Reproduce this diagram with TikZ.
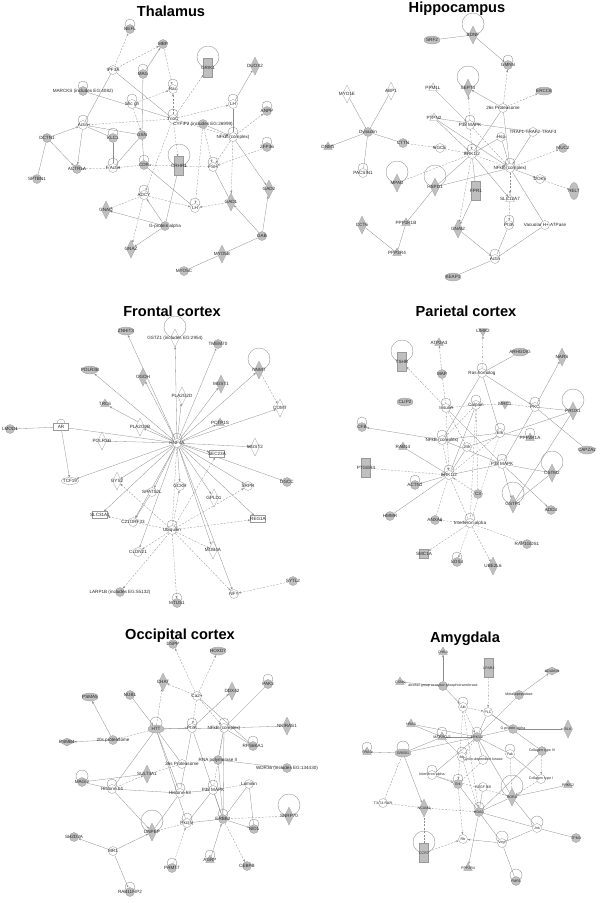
\documentclass[tikz,border=0pt]{standalone}
\usepackage{fontspec}
\setmainfont{Liberation Sans}
\usetikzlibrary{shapes.geometric,arrows.meta}
\pgfdeclarelayer{bg}
\pgfsetlayers{bg,main}
\newcommand\lbf{\fontsize{4.6}{5}\selectfont}
\newcommand\lbsf{\fontsize{3.6}{4}\selectfont}
\tikzset{
  x=1pt,y=-1pt,
  base/.style={inner sep=0pt,outer sep=0.2pt,draw=black!40,line width=0.3pt},
  gc/.style={base,circle,fill=gray!50,minimum size=9pt},
  oc/.style={base,circle,fill=white,minimum size=9pt},
  gd/.style={base,diamond,fill=gray!50,minimum width=9pt,minimum height=18pt},
  od/.style={base,diamond,fill=white,minimum width=9pt,minimum height=18pt},
  gdh/.style={base,diamond,fill=gray!50,minimum width=15pt,minimum height=8pt},
  gr/.style={base,rectangle,fill=gray!50,minimum width=9pt,minimum height=19pt},
  gsq/.style={base,rectangle,fill=gray!50,minimum width=9pt,minimum height=9pt},
  orr/.style={base,rectangle,fill=white,minimum width=15pt,minimum height=7pt},
  gt/.style={base,regular polygon,regular polygon sides=3,fill=gray!50,minimum size=10pt},
  gtd/.style={gt,shape border rotate=180},
  ot/.style={base,regular polygon,regular polygon sides=3,fill=white,minimum size=10pt},
  ge/.style={base,ellipse,fill=gray!50,minimum width=16pt,minimum height=8pt},
  gev/.style={base,ellipse,fill=gray!50,minimum width=9pt,minimum height=17pt},
  oe/.style={base,ellipse,fill=white,minimum width=17pt,minimum height=7pt},
  lb/.style={font=\lbf,text=black!85,inner sep=0pt},
  lpc/.style={draw=black!50,line width=0.3pt},
  ln/.style={draw=black!45,line width=0.3pt},
  dl/.style={ln,dash pattern=on 2pt off 1.4pt},
  ar/.style={ln,-{Stealth[length=2.6pt,width=2pt]}},
  da/.style={ar,dash pattern=on 2pt off 1.4pt},
  ttl/.style={font=\fontsize{14.6}{16}\selectfont\bfseries,anchor=base,inner sep=0pt}
}
\newcommand\mknode[5][]{\node[#2,label={[lb,#1]center:{#5}}] (#3) at (#4) {};}
\newcommand\lp[2]{\begin{pgfonlayer}{bg}\draw[lpc] ([yshift=#2pt]#1.center) circle (#2pt);\end{pgfonlayer}}
\begin{document}
\begin{tikzpicture}
\useasboundingbox (0,0) rectangle (600,903);
% ================= THALAMUS =================
\node[ttl] (ttitle) at (171,16.5) {Thalamus};
\mknode{gc}{tnefl}{130,29}{NEFL}\lp{tnefl}{5}
\mknode{gc}{tmbp}{163,44}{MBP}
\mknode{oc}{tipf}{113,70}{IPF3A}
\mknode{gc}{tmag}{143,74}{MAG}\lp{tmag}{5}
\mknode{gr}{tgrik}{208,68}{GRIK1}\lp{tgrik}{11}
\mknode{gd}{tduox}{255,66}{DUOX2}
\mknode{oc}{trac}{173,89}{Rac}\lp{trac}{5}
\mknode{gc}{tmarcks}{83,91}{MARCKS (includes EG:4082)}\lp{tmarcks}{5}
\mknode{oc}{tshc}{132,104}{Shc gh}\lp{tshc}{5}
\mknode{oc}{tlh1}{233,104}{LH}\lp{tlh1}{5}
\mknode{gc}{tanpp}{267,111}{ANPP}\lp{tanpp}{5}
\mknode{oc}{tactin}{83,125}{Actin}\lp{tactin}{5}
\mknode{oc}{ttrio}{173,119}{TrioC}\lp{ttrio}{5}
\mknode{gc}{tcyf}{203,124}{CYFIP2 (includes EG:26999)}
\mknode{oc}{tnfkb}{233,137}{NFkB (complex)}\lp{tnfkb}{5}
\mknode{gc}{tdctn}{47,138}{DCTN1}
\mknode{gc}{tklc}{113,138}{KLC1}\lp{tklc}{5}
\mknode{gc}{tgsn}{142,135}{GSN}
\mknode{gc}{tzfp}{267,147}{ZFP36}\lp{tzfp}{5}
\mknode{gc}{tactr}{77,169}{ACTR1A}
\mknode{oc}{tfacin}{113,168}{F Actin}\lp{tfacin}{5}
\mknode{gc}{tcdr}{144,165}{CDR}\lp{tcdr}{5}
\mknode{gr}{tcrhr}{179,166}{CRHR1}\lp{tcrhr}{11}
\mknode{oc}{tfsh}{213,167}{FSH}\lp{tfsh}{5}
\mknode{gd}{tgad2}{269,189}{GAD2}
\mknode{oc}{tadcy}{144,195}{ADCY}\lp{tadcy}{5}
\mknode{oc}{tlh2}{195,208}{LH}\lp{tlh2}{5}
\mknode{gd}{tgad1}{231,202}{GAD1}
\mknode{gd}{tgnaq}{106,210}{GNAQ}
\mknode{gc}{tgpa}{165,226}{G-protein alpha}
\mknode{gd}{tgnaz}{131,249}{GNAZ}
\mknode{gc}{tgab}{262,236}{GAB}
\mknode{gd}{tmyob}{222,254}{MYO5B}
\mknode{gc}{tmyoc}{184,271}{MYO5C}
\mknode{gc}{tsptbn}{37,179}{SPTBN1}
\begin{pgfonlayer}{bg}
\draw[da] (tipf) -- (tnefl);
\draw[da] (tipf) -- (tmbp);
\draw[ar] (tmag) -- (tmbp);
\draw[da] (tmbp) -- (trac);
\draw[ln] (tipf) -- (ttrio);
\draw[ln] (tmarcks) -- (ttrio);
\draw[ln] (tipf) -- (tactin);
\draw[da] (tshc) -- (trac);
\draw[da] (ttrio) -- (trac);
\draw[da] (ttrio) -- (tgrik);
\draw[da] (ttrio) -- (tlh1);
\draw[ar] (tlh1) -- (tduox);
\draw[da] (tnfkb) -- (tanpp);
\draw[da] (ttrio) -- (tactin);
\draw[ln] (tmag) -- (tgsn);
\draw[da] (tshc) -- (tgsn);
\draw[ar] (tdctn) -- (tactin);
\draw[ln] (tklc) -- (tactin);
\draw[ln] (tgsn) -- (tactin);
\draw[ar] (tcyf) -- (tnfkb);
\draw[da] (ttrio) -- (tnfkb);
\draw[ln] (tlh1) -- (tnfkb);
\draw[ar] (tdctn) -- (tactr);
\draw[ar] (tactin) -- (tactr);
\draw[ln] (tsptbn) -- (tdctn);
\draw[da] (tfacin) -- (tactr);
\draw[da] (tcdr) -- (tfacin);
\draw[da] (tcrhr) -- (tcdr);
\draw[da] (tfsh) -- (tcrhr);
\draw[da] (tzfp) -- (tfsh);
\draw[ar] (tnfkb) -- (tgad2);
\draw[ln] (tgad1) -- (tfsh);
\draw[da] (tcyf) -- (tlh2);
\draw[da] (ttrio) -- (tadcy);
\draw[da] (tadcy) -- (tlh2);
\draw[da] (tgad1) -- (tlh2);
\draw[da] (tadcy) -- (tgnaq);
\draw[da] (tadcy) -- (tgnaz);
\draw[ar] (tgpa) -- (tgnaq);
\draw[ar] (tgpa) -- (tgnaz);
\draw[ar] (tgpa) -- (tadcy);
\draw[ln] (tcrhr) -- (tgpa);
\draw[ar] (tgab) -- (tgad1);
\draw[ar] (tgab) -- (tgad2);
\draw[ln] (tmyob) -- (tgab);
\draw[ln] (tmyoc) -- (tmyob);
\draw[ln] (tklc) -- (tfacin);
\draw[ln] (tgsn) -- (tfacin);
\draw[da] (ttrio) -- (tcrhr);
\draw[ln] (tcdr) -- (tlh2);
\draw[da] (tcyf) -- (tfsh);
\draw[da] (tnfkb) -- (tgad1);
\draw[ln] (tgsn) -- (tcdr);
\draw[da] (tnfkb) -- (tfsh);
\end{pgfonlayer}
% ================= HIPPOCAMPUS =================
\node[ttl] (htitle) at (457,12.5) {Hippocampus};
\mknode{gd}{hbdnf}{473,35}{BDNF}\lp{hbdnf}{11}
\mknode{ge}{hsrf}{432,40}{SRF2}
\mknode{gc}{hgmnn}{508,65}{GMNN}\lp{hgmnn}{5}
\mknode{ot}{hppm}{433,88}{PPM1L}
\mknode{gd}{hsept}{468,88}{SEPT4}\lp{hsept}{11}
\mknode{ge}{hercc}{544,91}{ERCC6}
\mknode{od}{hmyo}{347,94}{MYO1E}
\mknode{od}{habp}{391,91}{ABP1}
\mknode{oc}{hprot}{503,108}{26s Proteasome}
\mknode{ot}{hptpn}{434,118}{PTPN2}
\mknode{oc}{hpmk}{470,125}{P38 MAPK}\lp{hpmk}{5}
\mknode{oc}{htraf}{533,132}{TRAF1-TRAF2-TRAF3}
\mknode{gc}{hdyn}{368,132}{Dynactin}
\mknode{oc}{hhsp}{501,137}{Hsp}
\mknode{gc}{hcttn}{403,143}{CTTN}
\mknode{gt}{hdnm}{328,147}{DNM1}
\mknode{oc}{helfe}{440,148}{SGCE}
\mknode{gc}{hmuc}{563,148}{MUC2}
\mknode{oc}{herk}{472,154}{ERK1/2}\lp{herk}{5}
\mknode{oc}{hnfkb}{510,168}{NFkB (complex)}\lp{hnfkb}{5}
\mknode{oc}{hpacsin}{363,173}{PACSIN1}\lp{hpacsin}{5}
\mknode{gd}{hmpad}{397,183}{MPAD}\lp{hmpad}{11}
\mknode{gd}{hhspd}{435,187}{HSPD1}\lp{hhspd}{11}
\mknode{gr}{hfpr}{476,191}{FPR1}
\mknode{oc}{hdok}{540,179}{DOK5}
\mknode{gev}{hrelt}{574,191}{RELT}
\mknode{ot}{hslc}{510,199}{SLC12A7}
\mknode{gd}{hcct}{362,225}{CCT6}
\mknode{gt}{hppp}{406,223}{PPP1R1B}
\mknode{gd}{hgnai}{458,229}{GNAI2}
\mknode{oc}{hpi}{509,225}{PI3K}\lp{hpi}{5}
\mknode{oc}{hvac}{545,225}{Vacuolar H+ ATPase}
\mknode{gt}{hppq}{397,253}{PPP2R4}
\mknode{oc}{hactin}{495,259}{Actin}\lp{hactin}{5}
\mknode{ge}{hkeap}{453,277}{KEAP1}
\begin{pgfonlayer}{bg}
\draw[ln] (hsrf) -- (hbdnf);
\draw[ar] (hbdnf) -- (hgmnn);
\draw[da] (hprot) -- (hgmnn);
\draw[ar] (hprot) -- (hsept);
\draw[da] (hprot) -- (hercc);
\draw[ar] (hppm) -- (hpmk);
\draw[da] (hpmk) -- (hsept);
\draw[ln] (hptpn) -- (htraf);
\draw[ar] (hptpn) -- (herk);
\draw[ln] (hmyo) -- (hdyn);
\draw[ln] (habp) -- (hdyn);
\draw[ar] (hdyn) -- (hdnm);
\draw[ln] (hdyn) -- (hcttn);
\draw[ln] (hdyn) -- (hpacsin);
\draw[da] (hcttn) -- (helfe);
\draw[da] (helfe) -- (herk);
\draw[da] (hpmk) -- (herk);
\draw[da] (herk) -- (hnfkb);
\draw[ln] (hhsp) -- (herk);
\draw[ar] (htraf) -- (hnfkb);
\draw[ln] (hprot) -- (herk);
\draw[ln] (hprot) -- (hnfkb);
\draw[da] (hnfkb) -- (hmuc);
\draw[ar] (hnfkb) -- (hdok);
\draw[da] (hdok) -- (hrelt);
\draw[da] (hnfkb) -- (hslc);
\draw[ar] (herk) -- (hslc);
\draw[dl] (hmpad) -- (herk);
\draw[ln] (hhspd) -- (herk);
\draw[ln] (hhspd) -- (hnfkb);
\draw[ln] (hfpr) -- (herk);
\draw[da] (herk) -- (hgnai);
\draw[ar] (hfpr) -- (hgnai);
\draw[da] (hslc) -- (hpi);
\draw[ln] (hpi) -- (hactin);
\draw[ln] (hvac) -- (hactin);
\draw[ln] (hvac) -- (hnfkb);
\draw[ar] (hgnai) -- (hactin);
\draw[ln] (hactin) -- (hkeap);
\draw[ln] (hcct) -- (hppq);
\draw[ln] (hppp) -- (hppq);
\draw[ln] (hhspd) -- (hppp);
\draw[da] (hpmk) -- (hnfkb);
\draw[ln] (hhsp) -- (hnfkb);
\draw[ln] (hptpn) -- (hnfkb);
\end{pgfonlayer}
% ================= FRONTAL CORTEX =================
\node[ttl] (ftitle) at (172,316) {Frontal cortex};
\mknode{ge}{fznhit}{126,331}{ZNHIT3}
\mknode{od}{fgstz}{175,338}{GSTZ1 (includes EG:2954)}\lp{fgstz}{11}
\mknode{gc}{ftmem}{218,344}{TMEM70}
\mknode{ge}{fpolrb}{90,370}{POLR3B}
\mknode{gd}{fogdh}{143,377}{OGDH}
\mknode{gd}{fnnmt}{259,370}{NNMT}\lp{fnnmt}{11}
\mknode{gd}{fmgsta}{221,384}{MGST1}
\mknode{od}{fplad}{182,396}{PLA2G2D}
\mknode{gt}{ftrc}{105,404}{TRC6}
\mknode{od}{fcomt}{280,408}{COMT}
\mknode{orr}{far}{61,427}{AR}\lp{far}{4}
\mknode{gc}{flmod}{10,429}{LMOD1}
\mknode{od}{fplab}{140,427}{PLA2G2B}
\mknode{gt}{fpctp}{220,423}{PCTP1S}
\mknode{od}{fpolrg}{102,441}{POLR3G}
\mknode{oc}{fhnf}{177,443}{HNF4A}\lp{fhnf}{5}
\mknode{od}{fmgstb}{255,447}{MGST2}
\mknode{orr}{fsec}{217,454}{SEC23A}
\mknode{oe}{ftcf}{70,481}{TCF19}
\mknode{od}{fgys}{117,481}{GYS2}
\mknode{oc}{fspats}{152,492}{SPATS2L}
\mknode{oc}{fgckr}{180,486}{GCKR}
\mknode{oc}{fsrpr}{248,486}{SRPR}
\mknode{od}{fgpld}{214,498}{GPLD1}
\mknode{gc}{fdgcc}{287,482}{DGCC}
\mknode{orr}{fslc}{100,515}{SLC31A1}
\mknode{oc}{fcorf}{133,522}{C21ORF33}
\mknode{oc}{fubq}{172,530}{Ubiquitin}\lp{fubq}{5}
\mknode{orr}{freg}{258,519}{REG1A}
\mknode{oc}{fcldn}{138,552}{CLDN21}
\mknode{od}{fmob}{213,550}{MOB4A}
\mknode{gc}{flarp}{120,592}{LARP1B (includes EG:55132)}
\mknode{oc}{fnfy}{234,594}{NFY}
\mknode{gc}{fsytl}{293,581}{SYTL2}
\mknode{gc}{fmtus}{177,603}{MTUS1}\lp{fmtus}{5}
\begin{pgfonlayer}{bg}
\foreach \tg in {fznhit,fgstz,ftmem,fpolrb,fogdh,fnnmt,fmgsta,fplad,ftrc,fcomt,fplab,fpctp,fpolrg,fmgstb,fsec,ftcf,fgys,fspats,fgckr,fsrpr,fgpld,fdgcc,freg,fcldn,fmob,fcorf,fslc,fnfy}
  \draw[ar] (fhnf) -- (\tg);
\foreach \tg in {flarp,fmtus,fgys,fslc,freg,fsrpr,fsec,fmob,fnfy,fgckr,fcldn}
  \draw[da] (fubq) -- (\tg);
\draw[dl] (fubq) -- (fhnf);
\draw[ar] (far) -- (flmod);
\draw[ar] (far) -- (ftcf);
\draw[ln] (far) -- (fhnf);
\draw[da] (fnnmt) -- (fcomt);
\draw[da] (fsytl) -- (fnfy);
\draw[ar] (fspats) -- (fcorf);
\end{pgfonlayer}
% ================= PARIETAL CORTEX =================
\node[ttl] (ptitle) at (466,316.5) {Parietal cortex};
\mknode{gtd}{plimk}{483,331}{LIMK2}
\mknode{gt}{patp}{439,343}{ATP2A3}
\mknode{ge}{parh}{520,352}{ARHGDIG}
\mknode{gd}{pnars}{562,357}{NARS}
\mknode{gr}{ptshr}{402,362}{TSHR}\lp{ptshr}{11}
\mknode{oc}{prash}{482,373}{Ras homolog}\lp{prash}{5}
\mknode{gc}{pmap}{442,374}{MAP}
\mknode{ge}{pclip}{405,402}{CLIP2}
\mknode{oc}{pins}{446,408}{Insulin}\lp{pins}{5}
\mknode{oc}{pcalp}{476,405}{Calpain}\lp{pcalp}{5}
\mknode{gtd}{pmrc}{505,404}{MRC1}
\mknode{oc}{ppkc}{535,407}{PKC}\lp{ppkc}{5}
\mknode{gd}{pprox}{573,411}{PROX1}\lp{pprox}{11}
\mknode{gc}{pcfb}{362,427}{CFB}\lp{pcfb}{5}
\mknode{oc}{pnfkb}{442,440}{NFkB (complex)}\lp{pnfkb}{5}
\mknode{oc}{perk}{500,433}{Erk}\lp{perk}{5}
\mknode{gt}{pppp}{530,438}{PPP2R1A}\lp{pppp}{5}
\mknode{gt}{prab}{403,447}{RAB14}
\mknode{oc}{pjnk}{467,447}{Jnk}
\mknode{ge}{pcapz}{587,450}{CAPZA2}
\mknode{gr}{pptger}{366,468}{PTGER4}
\mknode{oc}{perkb}{449,475}{ERK1/2}\lp{perkb}{5}
\mknode{oc}{ppmk}{502,464}{P38 MAPK}\lp{ppmk}{5}
\mknode{gd}{pcstm}{552,473}{CSTM2}\lp{pcstm}{11}
\mknode{gc}{pactn}{415,485}{ACTN1}\lp{pactn}{5}
\mknode{gc}{pcthree}{478,494}{C3}
\mknode{gd}{pgstp}{513,504}{GSTP1}\lp{pgstp}{11}
\mknode{gc}{padd}{551,510}{ADD3}
\mknode{gc}{phmmr}{390,516}{HMMR}
\mknode{gc}{panxa}{435,520}{ANXA6}
\mknode{oc}{pifn}{470,523}{Interferon alpha}\lp{pifn}{5}
\mknode{gc}{prap}{527,544}{RAP1GDS1}
\mknode{gsq}{psmc}{424,554}{SMC1A}
\mknode{gc}{psos}{457,562}{SOS3}\lp{psos}{5}
\mknode{gd}{pube}{493,566}{UBE2L6}
\begin{pgfonlayer}{bg}
\draw[da] (prash) -- (plimk);
\draw[da] (pmap) -- (patp);
\draw[ln] (prash) -- (parh);
\draw[ar] (ppkc) -- (pnars);
\draw[da] (pins) -- (ptshr);
\draw[dl] (pmap) -- (pins);
\draw[ln] (prash) -- (pnfkb);
\draw[ln] (prash) -- (perk);
\draw[ar] (prash) -- (ppkc);
\draw[da] (pcalp) -- (pins);
\draw[dl] (pcalp) -- (pmrc);
\draw[dl] (pmrc) -- (ppkc);
\draw[ln] (ppkc) -- (pprox);
\draw[ar] (pnfkb) -- (pcfb);
\draw[ln] (ppkc) -- (pcapz);
\draw[ln] (pprox) -- (pgstp);
\draw[da] (pptger) -- (perkb);
\draw[da] (pins) -- (perkb);
\draw[dl] (pnfkb) -- (perkb);
\draw[ln] (pcalp) -- (perkb);
\draw[dl] (pcalp) -- (pnfkb);
\draw[ln] (perk) -- (pnfkb);
\draw[ln] (pjnk) -- (perkb);
\draw[ar] (perkb) -- (pactn);
\draw[ln] (phmmr) -- (perkb);
\draw[dl] (panxa) -- (perkb);
\draw[dl] (pifn) -- (perkb);
\draw[da] (pcthree) -- (perkb);
\draw[ln] (ppmk) -- (perkb);
\draw[ar] (ppmk) -- (pgstp);
\draw[ar] (ppmk) -- (padd);
\draw[ln] (ppmk) -- (pcstm);
\draw[ln] (ppkc) -- (ppmk);
\draw[da] (pifn) -- (panxa);
\draw[da] (pifn) -- (prap);
\draw[da] (pifn) -- (psmc);
\draw[da] (pifn) -- (psos);
\draw[da] (pifn) -- (pube);
\draw[ln] (pgstp) -- (pcstm);
\draw[ln] (pppp) -- (perk);
\draw[dl] (perk) -- (pifn);
\draw[dl] (pcalp) -- (pifn);
\draw[ln] (prab) -- (perkb);
\draw[ln] (pins) -- (ppmk);
\draw[dl] (pcalp) -- (pcthree);
\draw[ln] (pnfkb) -- (ppmk);
\draw[dl] (perk) -- (perkb);
\draw[ln] (pjnk) -- (pprox);
\draw[dl] (pins) -- (pjnk);
\end{pgfonlayer}
% ================= OCCIPITAL CORTEX =================
\node[ttl] (otitle) at (180,639) {Occipital cortex};
\mknode{gc}{odspp}{173,644}{DSPP}
\mknode{ge}{ohoxd}{218,651}{HOXD7}
\mknode{gd}{ochat}{163,682}{CHAT}
\mknode{gd}{oddx}{232,691}{DDX42}
\mknode{oc}{oca}{197,696}{Ca2+}
\mknode{gc}{opak}{268,684}{PAK3}\lp{opak}{5}
\mknode{ge}{opsma}{90,697}{PSMA5}
\mknode{gc}{onub}{130,695}{NUB1}
\mknode{ge}{ohtt}{156,729}{HTT}\lp{ohtt}{6}
\mknode{oc}{opi}{192,728}{PI3K}\lp{opi}{5}
\mknode{oc}{onfkb}{224,728}{NFkB (complex)}\lp{onfkb}{5}
\mknode{gd}{onkir}{287,726}{NKIRAS1}
\mknode{gdh}{opsmb}{67,742}{PSMB4}
\mknode{gc}{optw}{113,740}{20s proteasome}
\mknode{gc}{orps}{253,746}{RPS6KA1}\lp{orps}{5}
\mknode{oc}{optx}{182,764}{26s Proteasome}
\mknode{gc}{ornap}{218,760}{RNA polymerase II}
\mknode{gc}{owdr}{287,768}{WDR36 (includes EG:134430)}
\mknode{gd}{osult}{147,774}{SULT4A1}
\mknode{gc}{omagi}{82,782}{MAGI2}\lp{omagi}{6}
\mknode{oc}{ohf}{112,789}{Histone h4}\lp{ohf}{5}
\mknode{oc}{oht}{180,793}{Histone h3}\lp{oht}{5}
\mknode{oc}{opmk}{213,790}{P38 MAPK}\lp{opmk}{5}
\mknode{oc}{olam}{249,784}{Laminin}
\mknode{gd}{osnrp}{289,816}{SNRP70}\lp{osnrp}{11}
\mknode{gc}{oerbb}{223,819}{ERBB2}\lp{oerbb}{5}
\mknode{oc}{opkc}{187,823}{Pkc(s)}\lp{opkc}{5}
\mknode{gd}{odnp}{152,832}{DNPEP}\lp{odnp}{11}
\mknode{gc}{onid}{254,829}{NID1}\lp{onid}{5}
\mknode{gc}{osh}{74,837}{SH2D3A}
\mknode{oc}{omr}{113,851}{MR1}
\mknode{gt}{oagrp}{210,860}{AGRP}\lp{oagrp}{5}
\mknode{gc}{oprm}{172,868}{PRMT7}\lp{oprm}{5}
\mknode{gc}{ocebp}{247,866}{CEBPB}
\mknode{gc}{orab}{130,892}{RAB11FIP2}\lp{orab}{5}
\begin{pgfonlayer}{bg}
\draw[da] (oca) -- (odspp);
\draw[da] (oca) -- (ohoxd);
\draw[da] (oca) -- (ochat);
\draw[da] (oca) -- (opi);
\draw[da] (oca) -- (onfkb);
\draw[ln] (oca) -- (orps);
\draw[ar] (opi) -- (oddx);
\draw[ln] (opak) -- (onfkb);
\draw[ln] (onkir) -- (onfkb);
\draw[ar] (ohtt) -- (opi);
\draw[ar] (onub) -- (ohtt);
\draw[da] (ohtt) -- (ochat);
\draw[ar] (optw) -- (opsma);
\draw[ar] (optw) -- (opsmb);
\draw[da] (ohtt) -- (optw);
\draw[ln] (ohtt) -- (optx);
\draw[ln] (ohtt) -- (oht);
\draw[ln] (ohtt) -- (ohf);
\draw[ln] (ohtt) -- (opkc);
\draw[ln] (ornap) -- (owdr);
\draw[ln] (orps) -- (onfkb);
\draw[ln] (ohf) -- (omagi);
\draw[da] (ohf) -- (osult);
\draw[ln] (ohf) -- (oht);
\draw[ar] (ohf) -- (odnp);
\draw[ln] (oerbb) -- (opmk);
\draw[ln] (oerbb) -- (olam);
\draw[ar] (oerbb) -- (onid);
\draw[dl] (oerbb) -- (osnrp);
\draw[da] (oerbb) -- (ocebp);
\draw[ar] (oagrp) -- (oerbb);
\draw[ln] (oerbb) -- (opkc);
\draw[dl] (opkc) -- (odnp);
\draw[da] (oprm) -- (opkc);
\draw[ar] (omr) -- (odnp);
\draw[ar] (omr) -- (osh);
\draw[ar] (omr) -- (orab);
\draw[ln] (olam) -- (onid);
\draw[ln] (osult) -- (omagi);
\draw[dl] (optx) -- (osult);
\draw[ln] (opi) -- (oerbb);
\draw[ln] (onfkb) -- (oerbb);
\draw[ln] (onfkb) -- (ornap);
\draw[dl] (onfkb) -- (opmk);
\draw[ln] (ornap) -- (oerbb);
\draw[ln] (opmk) -- (oht);
\draw[ln] (opmk) -- (opkc);
\draw[ln] (oht) -- (odnp);
\draw[ln] (opi) -- (oht);
\draw[ln] (ohtt) -- (onfkb);
\draw[dl] (olam) -- (opmk);
\end{pgfonlayer}
% ================= AMYGDALA =================
\node[ttl] (atitle) at (465,642.5) {Amygdala};
\begin{scope}[lb/.append style={font=\lbsf}]
\mknode{gt}{achka}{443,652}{CHKA}
\mknode{gr}{alpar}{489,668}{LPAR2}
\mknode{gdh}{aadam}{552,671}{ADAM19}
\mknode{gt}{acsnk}{400,682}{CSNK}
\mknode{gc}{aagap}{443,686}{alcohol group acceptor phosphotransferase}
\mknode{gc}{ametp}{519,695}{Metallopeptidase}
\mknode{oc}{aakt}{463,707}{Akt}\lp{aakt}{5}
\mknode{oc}{aplc}{488,712}{PLC}
\mknode{gc}{agpa}{513,729}{G protein alpha}
\mknode{gt}{ahras}{411,724}{HRAS}
\mknode{gt}{amap}{442,737}{MAP2K1/2}\lp{amap}{5}
\mknode{gc}{aerk}{477,737}{ERK1/2}\lp{aerk}{5}
\mknode{gd}{ablk}{568,729}{BLK}
\mknode{gt}{arras}{367,752}{RRAS}\lp{arras}{5}
\mknode{ge}{agreb}{403,753}{GREB1}\lp{agreb}{6}
\mknode{oc}{aikb}{462,757}{Ikb}\lp{aikb}{5}
\mknode{oc}{acdk}{483,760}{Cyclin-dependent kinase}
\mknode{oc}{afak}{510,754}{Fak}\lp{afak}{5}
\mknode{gc}{acolf}{542,751}{Collagen type IV}
\mknode{oc}{aifn}{432,775}{Interferon alpha}\lp{aifn}{5}
\mknode{oc}{acolo}{541,779}{Collagen type I}
\mknode{gc}{aerkb}{458,784}{Erk}\lp{aerkb}{5}
\mknode{oc}{apdgf}{483,787}{PDGF BB}
\mknode{gd}{aror}{512,797}{RORA}\lp{aror}{11}
\mknode{gt}{aprkg}{568,785}{PRKG2}
\mknode{oc}{athree}{383,803}{T3-T4-RXR}
\mknode{gd}{ancam}{424,808}{NCAM2}
\mknode{gc}{ahdac}{479,812}{HDAC}\lp{ahdac}{5}
\mknode{oc}{ajnk}{537,828}{Jnk}\lp{ajnk}{6}
\mknode{gc}{atpm}{576,838}{TPM3}
\mknode{oc}{arb}{463,839}{Rb}
\mknode{oc}{avegf}{502,843}{Vegf}\lp{avegf}{6}
\mknode{gr}{accr}{424,853}{CCR7}\lp{accr}{11}
\mknode{gt}{appp}{468,868}{PPP2R4}
\mknode{gc}{afmr}{516,881}{FMR1}\lp{afmr}{6}
\end{scope}
\begin{pgfonlayer}{bg}
\draw[ar] (aagap) -- (achka);
\draw[ar] (aagap) -- (acsnk);
\draw[ar] (aagap) -- (aakt);
\draw[da] (alpar) -- (aplc);
\draw[ar] (ametp) -- (aadam);
\draw[ln] (ametp) -- (aerk);
\draw[da] (aakt) -- (aplc);
\draw[ar] (agpa) -- (ablk);
\draw[ar] (ahras) -- (amap);
\draw[ln] (amap) -- (aerk);
\draw[da] (aakt) -- (aerk);
\draw[da] (aakt) -- (aerkb);
\draw[da] (aakt) -- (ahdac);
\draw[ln] (aplc) -- (aerk);
\draw[ln] (aplc) -- (agpa);
\draw[ln] (aplc) -- (acolf);
\draw[ln] (aerk) -- (agpa);
\draw[ln] (aerk) -- (afak);
\draw[ln] (aerk) -- (acdk);
\draw[dl] (aerk) -- (aikb);
\draw[ln] (aerk) -- (aifn);
\draw[ar] (agreb) -- (arras);
\draw[ar] (agreb) -- (ancam);
\draw[dl] (athree) -- (agreb);
\draw[da] (ahdac) -- (ancam);
\draw[dl] (athree) -- (ancam);
\draw[dl] ([xshift=0.5pt]accr.north) -- ([xshift=0.5pt]ancam.south);
\draw[da] (accr) -- (arb);
\draw[ar] (avegf) -- (arb);
\draw[ln] (avegf) -- (afmr);
\draw[ln] (avegf) -- (ajnk);
\draw[ln] (ajnk) -- (atpm);
\draw[ln] (ahdac) -- (ajnk);
\draw[ar] (ahdac) -- (appp);
\draw[ln] (aror) -- (aprkg);
\draw[ln] (aror) -- (ajnk);
\draw[da] (acolo) -- (aror);
\draw[da] (acolf) -- (acolo);
\draw[da] (aerkb) -- (arb);
\draw[ln] (agreb) -- (aerk);
\draw[ar] (aifn) -- (aerkb);
\draw[ln] (aerkb) -- (ahdac);
\draw[ln] (apdgf) -- (ahdac);
\draw[ln] (aerk) -- (aror);
\draw[dl] (aifn) -- (aror);
\draw[ln] (ahdac) -- (aror);
\draw[ln] (ahdac) -- (avegf);
\draw[ln] (ahdac) -- (acolf);
\draw[dl] (aerkb) -- (acdk);
\draw[dl] (afak) -- (aror);
\draw[ln] (ahras) -- (aerk);
\draw[ln] (amap) -- (aikb);
\draw[ln] (agreb) -- (amap);
\draw[dl] (aikb) -- (ahdac);
\draw[ln] (afak) -- (acolo);
\end{pgfonlayer}
\end{tikzpicture}
\end{document}
